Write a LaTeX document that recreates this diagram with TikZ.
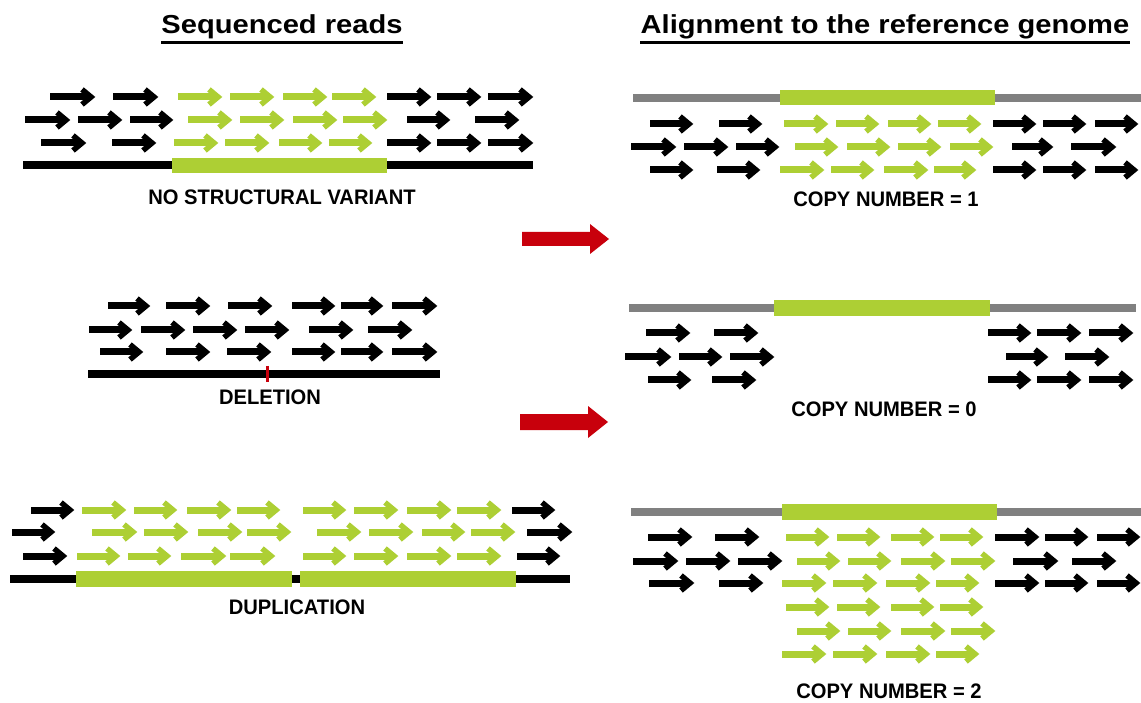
\documentclass[tikz,border=0pt]{standalone}
\usepackage{fontspec}
\setmainfont{Liberation Sans}
\usepackage{graphicx}
\definecolor{lgreen}{RGB}{173,207,52}
\definecolor{refgray}{RGB}{128,128,128}
\definecolor{bigred}{RGB}{200,0,12}
\newcommand\rdarrow[4]{%
  \draw[#4, line width=7pt, line cap=butt] (#1,#3) -- (#2-5,#3);
  \draw[#4, line width=5.5pt, line cap=butt, line join=miter] (#2-13,#3-7.5) -- (#2-4,#3) -- (#2-13,#3+7.5);
}
\newcommand\readrow[3]{\foreach \xa/\xb in {#3}{\rdarrow{\xa}{\xb}{#1}{#2}}}
\tikzset{
  lab/.style={font=\fontsize{21}{24}\selectfont\bfseries, inner sep=0pt},
  ttl/.style={font=\fontsize{26}{30}\selectfont\bfseries, inner sep=0pt, anchor=base},
  seqline/.style={line width=8pt, black},
  refline/.style={line width=8pt, refgray},
  redarrow/.style={fill=bigred}
}
\newcommand\lbl[1]{\scalebox{0.96}[1]{#1}}
\begin{document}
\begin{tikzpicture}[x=1pt,y=-1pt]
\fill[white] (0,0) rectangle (1141,703);
\useasboundingbox (0,0) rectangle (1141,703);

% titles
\node[ttl] (t1) at (282,34) {\scalebox{1.12}[1]{Sequenced reads}};
\node[ttl] (t2) at (885,34) {\scalebox{1.12}[1]{Alignment to the reference genome}};
\draw[line width=2.5pt] ([yshift=-3pt]t1.south west) -- ([yshift=-3pt]t1.south east);
\draw[line width=2.5pt] ([yshift=-3pt]t2.south west) -- ([yshift=-3pt]t2.south east);

% ---------- panel 1: no structural variant
\draw[seqline] (23,165) -- (533,165);
\fill[lgreen] (172,158) rectangle (387,173);
\readrow{97}{black}{50/95,113/158,387/431,437/481,488/533}
\readrow{97}{lgreen}{178/222,230/274,283/327,332/376}
\readrow{120}{black}{25/70,78/122,130/173,407/450,475/519}
\readrow{120}{lgreen}{188/232,240/284,293/337,343/387}
\readrow{143}{black}{41/86,112/156,387/431,437/481,488/533}
\readrow{143}{lgreen}{174/218,225/269,279/322,329/372}
\node[lab] (l1) at (282,197) {\lbl{NO STRUCTURAL VARIANT}};

% ---------- panel 2: copy number 1
\draw[refline] (633,98) -- (1141,98);
\fill[lgreen] (780,90) rectangle (995,105);
\readrow{124}{black}{650/693,719/762,993/1036,1043/1086,1095/1138}
\readrow{124}{lgreen}{784/828,836/879,888/931,938/981}
\readrow{147}{black}{631/676,684/728,736/779,1012/1053,1071/1116}
\readrow{147}{lgreen}{795/838,847/890,898/941,950/993}
\readrow{170}{black}{650/693,717/760,993/1036,1043/1086,1095/1138}
\readrow{170}{lgreen}{780/824,831/874,884/928,934/976}
\node[lab] (r1) at (886,199) {\lbl{COPY NUMBER = 1}};

% red arrows
\fill[redarrow] (522,232) -- (590,232) -- (590,224) -- (609,239) -- (590,254) -- (590,246) -- (522,246) -- cycle;
\fill[redarrow] (520,414) -- (588,414) -- (588,406) -- (608,422) -- (588,438) -- (588,430) -- (520,430) -- cycle;

% ---------- panel 3: deletion
\draw[seqline] (88,374) -- (440,374);
\draw[bigred, line width=3pt] (267,366) -- (267,382);
\readrow{306}{black}{108/150,166/210,228/272,292/335,341/383,392/437}
\readrow{330}{black}{89/132,141/185,193/237,245/289,309/353,368/412}
\readrow{352}{black}{100/143,166/210,227/271,292/335,341/383,392/437}
\node[lab] (l2) at (270,397) {\lbl{DELETION}};

% ---------- panel 4: copy number 0
\draw[refline] (629,308) -- (1136,308);
\fill[lgreen] (774,300) rectangle (990,316);
\readrow{333}{black}{646/690,714/758,988/1031,1037/1081,1089/1133}
\readrow{357}{black}{625/671,679/722,730/774,1006/1048,1065/1109}
\readrow{380}{black}{648/691,712/756,988/1031,1037/1081,1089/1133}
\node[lab] (r2) at (884,409) {\lbl{COPY NUMBER = 0}};

% ---------- panel 5: duplication
\draw[seqline] (10,579) -- (570,579);
\fill[lgreen] (76,571) rectangle (292,587);
\fill[lgreen] (300,571) rectangle (516,587);
\readrow{510}{black}{31/74,512/555}
\readrow{510}{lgreen}{82/126,134/177,187/231,237/280,303/346,354/398,407/451,457/501}
\readrow{532}{black}{12/55,527/572}
\readrow{532}{lgreen}{92/137,144/188,198/242,247/291,317/361,369/413,422/465,471/515}
\readrow{556}{black}{23/67,517/560}
\readrow{556}{lgreen}{77/120,128/171,181/226,230/275,303/346,354/398,407/451,457/501}
\node[lab] (l3) at (297,607) {\lbl{DUPLICATION}};

% ---------- panel 6: copy number 2
\draw[refline] (631,512) -- (1141,512);
\fill[lgreen] (782,504) rectangle (997,520);
\readrow{537}{black}{648/692,715/759,995/1039,1045/1088,1097/1140}
\readrow{537}{lgreen}{786/829,837/880,891/934,940/983}
\readrow{561}{black}{633/678,686/730,738/782,1013/1058,1072/1116}
\readrow{561}{lgreen}{797/840,848/891,901/945,951/995}
\readrow{583}{black}{649/694,719/763,995/1039,1045/1088,1097/1140}
\readrow{583}{lgreen}{782/826,833/877,886/930,936/979}
\readrow{607}{lgreen}{786/829,837/880,891/934,940/983}
\readrow{631}{lgreen}{797/840,848/891,901/945,951/995}
\readrow{654}{lgreen}{782/826,833/877,886/930,936/979}
\node[lab] (r3) at (889,691) {\lbl{COPY NUMBER = 2}};
\end{tikzpicture}
\end{document}
